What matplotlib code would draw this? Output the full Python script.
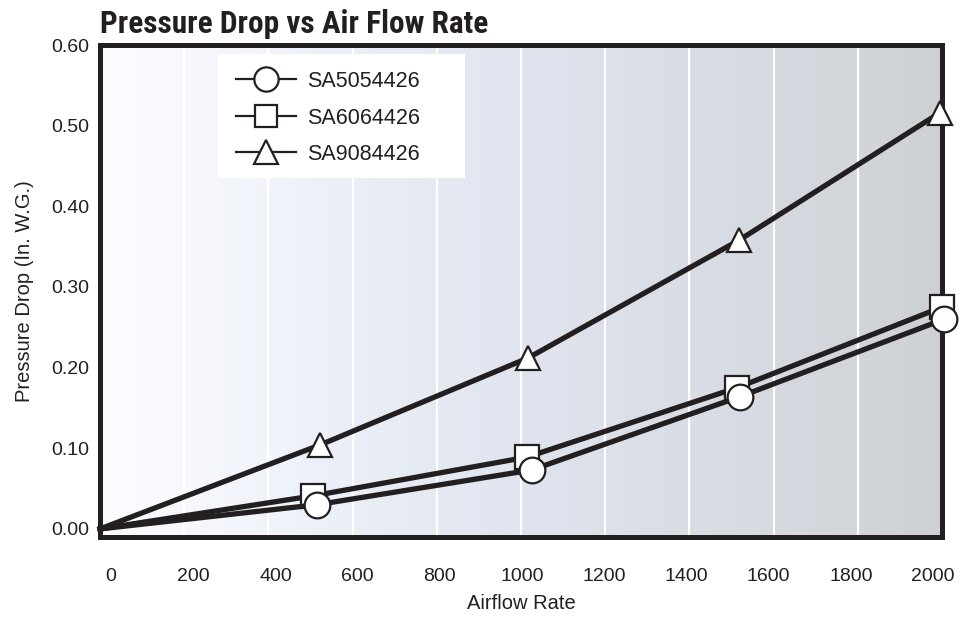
import numpy as np
import matplotlib
matplotlib.use("Agg")
import matplotlib.pyplot as plt
from matplotlib.colors import LinearSegmentedColormap
from matplotlib.lines import Line2D
from matplotlib.patches import Rectangle

# ---- data ----
series_names = ["SA5054426", "SA6064426", "SA9084426"]
x_circle = [0, 515, 1025, 1520, 2005]
y_circle = [0.0, 0.030, 0.073, 0.164, 0.260]
x_square = [0, 506, 1014, 1513, 2000]
y_square = [0.0, 0.041, 0.089, 0.175, 0.275]
x_triangle = [0, 522, 1017, 1518, 1995]
y_triangle = [0.0, 0.104, 0.212, 0.358, 0.516]
x_ticks = [0, 200, 400, 600, 800, 1000, 1200, 1400, 1600, 1800, 2000]
y_ticks = [0.0, 0.1, 0.2, 0.3, 0.4, 0.5, 0.6]

plt.rcParams['font.family'] = ['Liberation Sans', 'DejaVu Sans']
INK = "#231f20"

fig = plt.figure(figsize=(9.61, 6.21), dpi=100)
ax = fig.add_axes([100/961, 1-537/621, (942-100)/961, (537-45)/621])

# gradient background
cmap = LinearSegmentedColormap.from_list("bg", [
    (0.0, (0.99, 0.992, 1.0)),
    (0.25, (0.93, 0.945, 0.975)),
    (0.5, (0.875, 0.895, 0.935)),
    (0.75, (0.845, 0.86, 0.89)),
    (1.0, (0.81, 0.82, 0.83)),
])
grad = np.linspace(0, 1, 512).reshape(1, -1)
ax.imshow(grad, extent=[0, 2000, -0.01, 0.6], aspect='auto', cmap=cmap,
          zorder=0, interpolation='bilinear')

ax.set_xlim(0, 2000)
ax.set_ylim(-0.01, 0.6)

# grid lines (white)
ax.set_xticks(x_ticks[1:-1], minor=True)
ax.set_yticks(y_ticks[1:-1], minor=True)
ax.grid(which='minor', color='white', linewidth=1.6, zorder=0.5)
ax.tick_params(which='minor', length=0)

# tick labels (slightly compressed placement as in the reference)
lab_pos = [26 + 0.9765 * v for v in x_ticks]
ax.set_xticks(lab_pos, [str(v) for v in x_ticks])
ax.set_yticks(y_ticks, [f"{v:.2f}" for v in y_ticks])
ax.tick_params(axis='x', which='major', length=0, pad=22, labelsize=14, labelcolor=INK)
ax.tick_params(axis='y', which='major', length=0, pad=8, labelsize=14, labelcolor=INK)

for s in ax.spines.values():
    s.set_color(INK)
    s.set_linewidth(3.6)
    s.set_zorder(2.5)

# legend box
ax.add_patch(Rectangle(((218-100)/842, (537-178)/492), (465-218)/842, (178-54)/492,
                       transform=ax.transAxes, facecolor='white', edgecolor='none', zorder=1.5))

common = dict(color=INK, linewidth=3.8, markerfacecolor='white', markeredgecolor=INK,
              markeredgewidth=1.6, clip_on=False, zorder=3)
ax.plot(x_triangle, y_triangle, marker='^', markersize=17, markevery=[1, 2, 3, 4], **common)
ax.plot(x_square, y_square, marker='s', markersize=17, markevery=[1, 2, 3, 4], **common)
ax.plot(x_circle, y_circle, marker='o', markersize=18.5, markevery=[1, 2, 3, 4], **common)

handles = [
    Line2D([], [], color=INK, lw=1.6, marker='o', ms=17.5, mfc='white', mec=INK, mew=1.6),
    Line2D([], [], color=INK, lw=1.6, marker='s', ms=16.5, mfc='white', mec=INK, mew=1.6),
    Line2D([], [], color=INK, lw=1.6, marker='^', ms=17, mfc='white', mec=INK, mew=1.6),
]
leg = ax.legend(handles, series_names, loc='upper left',
                bbox_to_anchor=((237-100)/842 - 0.001, (537-71)/492),
                frameon=False, fontsize=15.5, handlelength=2.8, handletextpad=0.5,
                labelspacing=0.72, borderpad=0, borderaxespad=0)
for t in leg.get_texts():
    t.set_color(INK)
leg.set_zorder(4)

ax.set_xlabel("Airflow Rate", fontsize=14.5, color=INK, labelpad=7)
ax.set_ylabel("Pressure Drop (In. W.G.)", fontsize=14.5, color=INK, labelpad=12)

fig.text(100/961, 1-33/621, "Pressure Drop vs Air Flow Rate",
         fontsize=22.5, fontweight='bold', color=INK, va='baseline', ha='left',
         family=['Liberation Sans Narrow', 'Roboto Condensed', 'Liberation Sans', 'DejaVu Sans'])

fig.savefig("out.png", dpi=100)
